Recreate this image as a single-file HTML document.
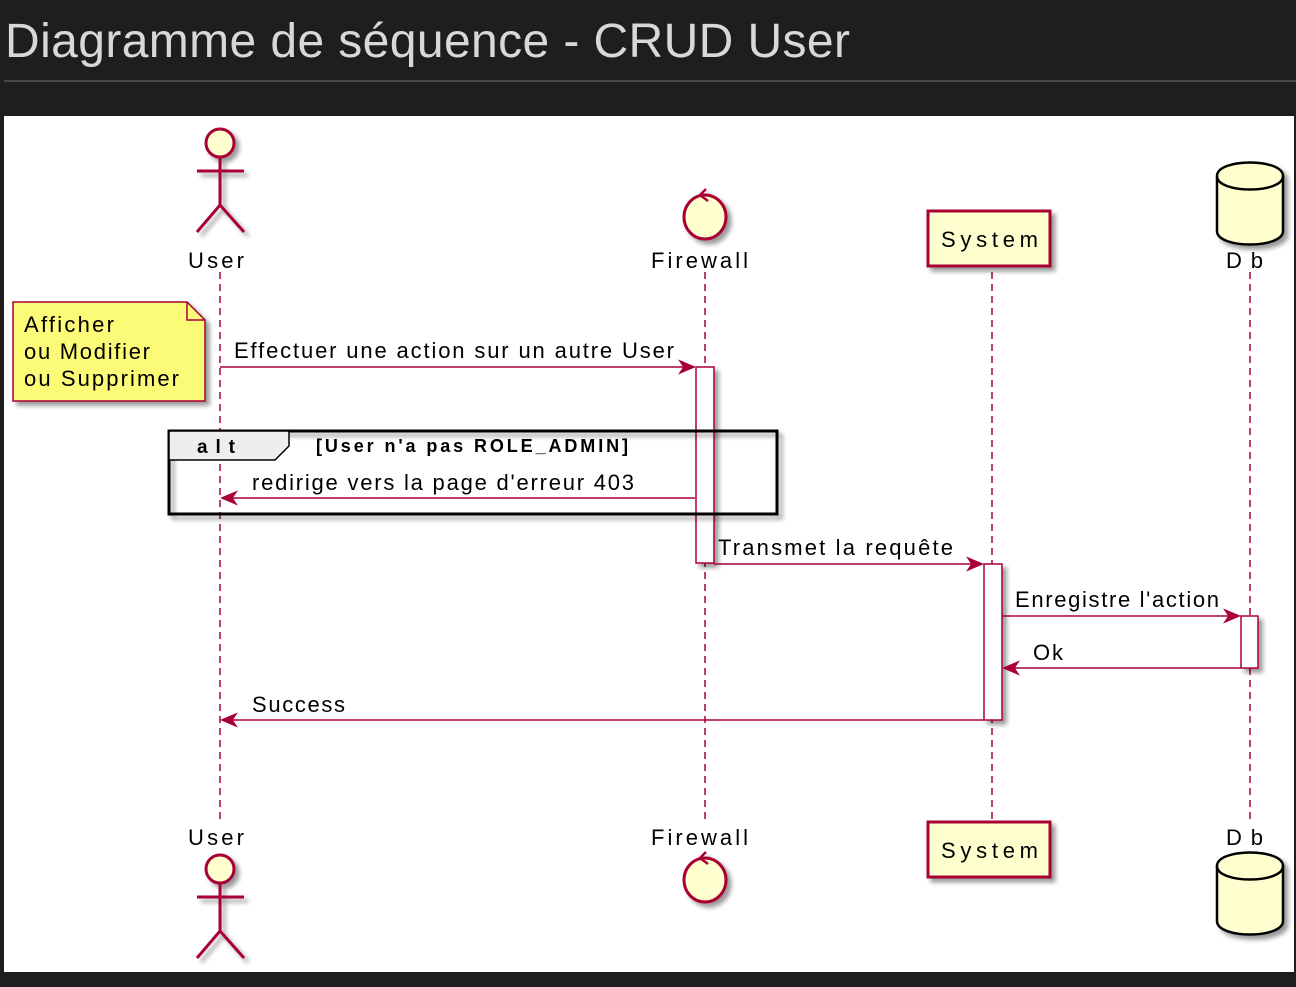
<!DOCTYPE html>
<html><head><meta charset="utf-8"><style>
body{margin:0;background:#1e1e1e;width:1296px;height:982px;overflow:hidden;font-family:"Liberation Sans",sans-serif}
</style></head><body>
<svg width="1296" height="982" xmlns="http://www.w3.org/2000/svg" font-family="Liberation Sans, sans-serif">
<defs>
<filter id="sh" x="-20%" y="-20%" width="150%" height="150%"><feGaussianBlur in="SourceAlpha" stdDeviation="2.5"/><feOffset dx="4" dy="4"/><feComponentTransfer><feFuncA type="linear" slope="0.4"/></feComponentTransfer><feMerge><feMergeNode/><feMergeNode in="SourceGraphic"/></feMerge></filter>
</defs>
<text x="5" y="57" font-size="48" fill="#d8d8d8" textLength="845">Diagramme de séquence - CRUD User</text>
<line x1="4" y1="81" x2="1296" y2="81" stroke="#555" stroke-width="1.5"/>
<rect x="4" y="116" width="1290" height="856" fill="#fff"/>
<g stroke="#a80036" stroke-width="1.5" stroke-dasharray="7,5" fill="none">
<line x1="220" y1="272" x2="220" y2="822"/><line x1="705" y1="272" x2="705" y2="822"/>
<line x1="992" y1="272" x2="992" y2="822"/><line x1="1250" y1="272" x2="1250" y2="822"/>
</g>
<g font-size="22" fill="#000">
<text x="188" y="268" textLength="56">User</text>
<text x="651" y="268" textLength="97">Firewall</text>
<text x="1226" y="268" textLength="37">Db</text>
<text x="188" y="845" textLength="56">User</text>
<text x="651" y="845" textLength="97">Firewall</text>
<text x="1226" y="845" textLength="37">Db</text>
</g>
<g stroke="#a80036" stroke-width="3" fill="#fefece" filter="url(#sh)">
<circle cx="220" cy="143" r="14"/>
<path d="M220 157V205M197 171H244M197 232L220 205L244 232" fill="none"/>
<circle cx="220" cy="869" r="14"/>
<path d="M220 883V931M197 897H244M197 958L220 931L244 958" fill="none"/>
<ellipse cx="705" cy="217" rx="21" ry="22"/>
<path d="M706 189L700 195L708 201" fill="none" stroke-width="2.5"/>
<ellipse cx="705" cy="880" rx="21" ry="22"/>
<path d="M706 852L700 858L708 864" fill="none" stroke-width="2.5"/>
<rect x="928" y="211" width="122" height="55"/>
<rect x="928" y="822" width="122" height="55"/>
</g>
<g font-size="22" fill="#000"><text x="941" y="247" textLength="97">System</text><text x="941" y="858" textLength="97">System</text></g>
<g stroke="#000" stroke-width="2.5" fill="#fefece" filter="url(#sh)">
<path d="M1217 176C1217 158 1283 158 1283 176V231C1283 249 1217 249 1217 231Z"/>
<path d="M1217 176C1217 194 1283 194 1283 176" fill="none"/>
<path d="M1217 866C1217 848 1283 848 1283 866V921C1283 939 1217 939 1217 921Z"/>
<path d="M1217 866C1217 884 1283 884 1283 866" fill="none"/>
</g>
<g filter="url(#sh)"><path d="M13 302H187L205 320V401H13Z" fill="#fbfb77" stroke="#a80036" stroke-width="1.5"/></g>
<path d="M187 302V320H205" fill="none" stroke="#a80036" stroke-width="1.5"/>
<g font-size="22" fill="#000"><text x="24" y="332" textLength="90">Afficher</text><text x="24" y="359" textLength="126">ou Modifier</text><text x="24" y="386" textLength="155">ou Supprimer</text></g>
<g stroke="#a80036" stroke-width="1.5" fill="#fff" filter="url(#sh)">
<rect x="696" y="367" width="18" height="196"/>
<rect x="984" y="564" width="18" height="156"/>
<rect x="1241" y="616" width="17" height="52"/>
</g>
<g filter="url(#sh)"><rect x="169" y="431" width="608" height="83" fill="none" stroke="#000" stroke-width="3"/></g>
<path d="M169 431H289V446L275 460H169Z" fill="#eee" stroke="#000" stroke-width="1.5"/>
<text x="197" y="453" font-size="19" font-weight="bold" textLength="38">alt</text>
<text x="316" y="452" font-size="18" font-weight="bold" textLength="312">[User n'a pas ROLE_ADMIN]</text>
<g stroke="#a80036" stroke-width="1.5" fill="#a80036">
<line x1="220" y1="367" x2="694" y2="367"/><path d="M694 367L680 361L684 367L680 373Z"/>
<line x1="695" y1="498" x2="222" y2="498"/><path d="M222 498L236 492L232 498L236 504Z"/>
<line x1="714" y1="564" x2="982" y2="564"/><path d="M982 564L968 558L972 564L968 570Z"/>
<line x1="1002" y1="616" x2="1239" y2="616"/><path d="M1239 616L1225 610L1229 616L1225 622Z"/>
<line x1="1241" y1="668" x2="1004" y2="668"/><path d="M1004 668L1018 662L1014 668L1018 674Z"/>
<line x1="984" y1="720" x2="222" y2="720"/><path d="M222 720L236 714L232 720L236 726Z"/>
</g>
<g font-size="22" fill="#000">
<text x="234" y="358" textLength="440">Effectuer une action sur un autre User</text>
<text x="252" y="490" textLength="382">redirige vers la page d'erreur 403</text>
<text x="718" y="555" textLength="235">Transmet la requête</text>
<text x="1015" y="607" textLength="204">Enregistre l'action</text>
<text x="1033" y="660" textLength="30">Ok</text>
<text x="252" y="712" textLength="93">Success</text>
</g>
</svg>
</body></html>
